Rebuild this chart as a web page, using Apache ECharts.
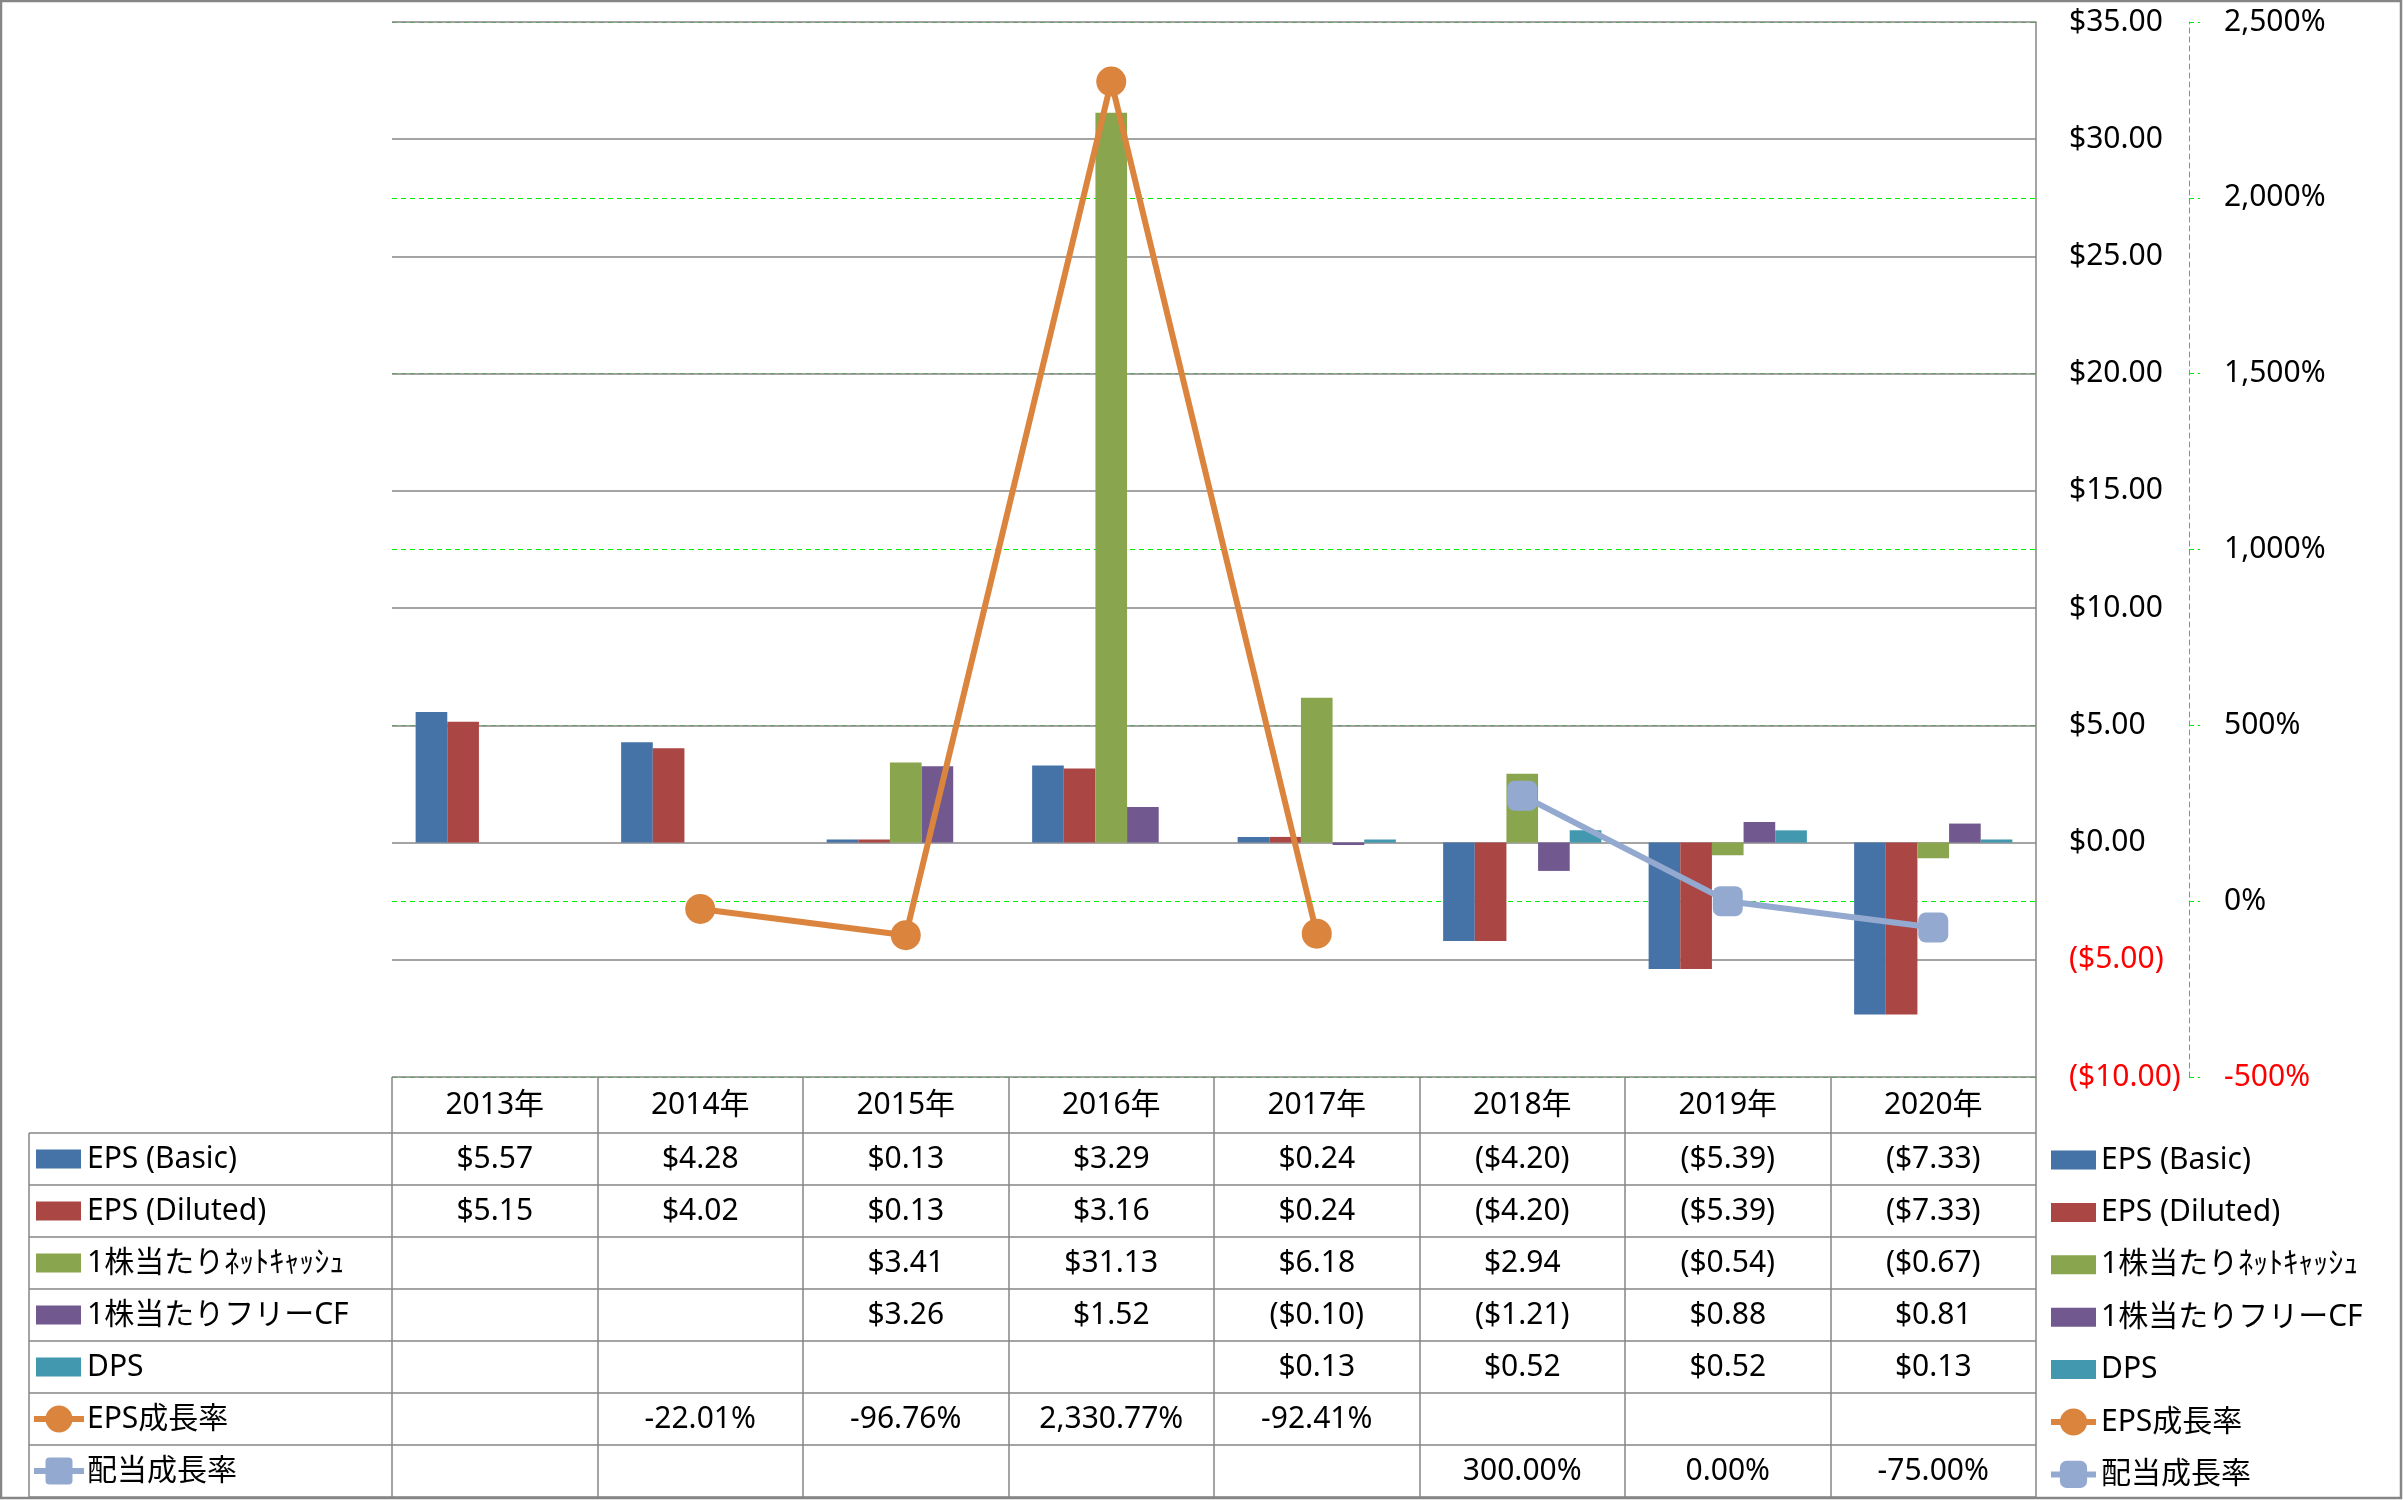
<!DOCTYPE html>
<html>
<head>
<meta charset="utf-8">
<script src="https://cdn.jsdelivr.net/npm/echarts@6/dist/echarts.min.js"></script>
<style>
  html, body { margin: 0; padding: 0; background: #fff; }
  #main { width: 2403px; height: 1500px; }
</style>
</head>
<body>
<div id="main"></div>
<script>
const years = ['2013年', '2014年', '2015年', '2016年', '2017年', '2018年', '2019年', '2020年'];
const epsBasic = [5.57, 4.28, 0.13, 3.29, 0.24, -4.20, -5.39, -7.33];
const epsDiluted = [5.15, 4.02, 0.13, 3.16, 0.24, -4.20, -5.39, -7.33];
const netCashPerShare = [null, null, 3.41, 31.13, 6.18, 2.94, -0.54, -0.67];
const fcfPerShare = [null, null, 3.26, 1.52, -0.10, -1.21, 0.88, 0.81];
const dps = [null, null, null, null, 0.13, 0.52, 0.52, 0.13];
const epsGrowth = [null, -22.01, -96.76, 2330.77, -92.41, null, null, null];
const divGrowth = [null, null, null, null, null, 300.00, 0.00, -75.00];

// axis ranges
const dollarMin = -10, dollarMax = 35, dollarStep = 5;
const pctMin = -500, pctMax = 2500, pctStep = 500;

const FONT = '"Noto Sans", "Noto Sans CJK JP", sans-serif';
const GREY = '#868686';
const GREEN = '#00ee00';

// layout
const GRID_LEFT = 392, GRID_TOP = 22, GRID_W = 1644, GRID_H = 1055;
const TABLE_LEFT = 29, HEADER_H = 56, ROW_H = 52;

const fmtDollar = v => {
  if (v == null) return '';
  const s = '$' + Math.abs(v).toFixed(2);
  return v < 0 ? '(' + s + ')' : s;
};
const fmtPct = v => {
  if (v == null) return '';
  return v.toLocaleString('en-US', { minimumFractionDigits: 2, maximumFractionDigits: 2 }) + '%';
};

const rows = [
  { name: 'EPS (Basic)', data: epsBasic, color: '#4572A7', kind: 'bar', fmt: fmtDollar },
  { name: 'EPS (Diluted)', data: epsDiluted, color: '#AA4643', kind: 'bar', fmt: fmtDollar },
  { name: '1株当たりﾈｯﾄｷｬｯｼｭ', data: netCashPerShare, color: '#89A54E', kind: 'bar', fmt: fmtDollar },
  { name: '1株当たりフリーCF', data: fcfPerShare, color: '#71588F', kind: 'bar', fmt: fmtDollar },
  { name: 'DPS', data: dps, color: '#4198AF', kind: 'bar', fmt: fmtDollar },
  { name: 'EPS成長率', data: epsGrowth, color: '#DB843D', kind: 'line', symbol: 'circle', fmt: fmtPct },
  { name: '配当成長率', data: divGrowth, color: '#93A9CF', kind: 'line', symbol: 'roundRect', fmt: fmtPct },
];

const series = rows.map(r => {
  if (r.kind === 'bar') {
    return {
      name: r.name, type: 'bar', data: r.data, yAxisIndex: 0,
      barGap: '0%', barCategoryGap: '23%',
      itemStyle: { color: r.color }, z: 2,
    };
  }
  return {
    name: r.name, type: 'line', data: r.data, yAxisIndex: 1,
    symbol: r.symbol, symbolSize: 30, showAllSymbol: true,
    lineStyle: { color: r.color, width: 6 },
    itemStyle: { color: r.color },
    z: 5,
  };
});

// flat swatch for bar entries, kept at its own aspect inside the taller legend box
const BAR_ICON = 'path://M0,0h45v19h-45z';

const option = {
  animation: false,
  backgroundColor: '#fff',
  textStyle: { fontFamily: FONT },
  grid: { left: GRID_LEFT, top: GRID_TOP, width: GRID_W, height: GRID_H, containLabel: false, outerBoundsMode: 'none' },
  legend: {
    orient: 'vertical', left: 2043, top: 1140,
    itemWidth: 45, itemHeight: 34, itemGap: 22.4,
    symbolKeepAspect: true,
    selectedMode: false,
    lineStyle: { width: 6 },
    textStyle: { fontSize: 30, lineHeight: 30, color: '#000', fontFamily: FONT },
    data: rows.map(r => r.kind === 'bar' ? { name: r.name, icon: BAR_ICON } : { name: r.name }),
  },
  xAxis: {
    type: 'category', data: years, position: 'bottom',
    axisLine: { show: false, onZero: false },
    axisTick: { show: true, interval: 0, length: 420, lineStyle: { color: GREY, width: 1.5 } },
    axisLabel: { interval: 0, margin: 13, fontSize: 30, color: '#000', fontFamily: FONT },
    splitLine: { show: false },
  },
  yAxis: [
    {
      type: 'value', position: 'right', min: dollarMin, max: dollarMax, interval: dollarStep, z: 1,
      axisLine: { show: true, lineStyle: { color: GREY, width: 1.5 } },
      axisTick: { show: false },
      splitLine: { show: true, lineStyle: { color: GREY, width: 1.5 } },
      axisLabel: {
        margin: 33, align: 'left', fontSize: 30, fontFamily: FONT,
        formatter: v => fmtDollar(v),
        color: v => Number(v) < 0 ? '#ff0000' : '#000',
      },
    },
    {
      type: 'value', position: 'right', offset: 153, min: pctMin, max: pctMax, interval: pctStep, z: 0,
      axisLine: { show: true, lineStyle: { color: GREEN, width: 1, type: [5, 4] } },
      axisTick: { show: true, length: 11, lineStyle: { color: GREEN, width: 1, type: [5, 4] } },
      splitLine: { show: true, lineStyle: { color: GREEN, width: 1, type: [5, 4] } },
      axisLabel: {
        margin: 35, align: 'left', fontSize: 30, fontFamily: FONT,
        formatter: v => Number(v).toLocaleString('en-US') + '%',
        color: v => Number(v) < 0 ? '#ff0000' : '#000',
      },
    },
  ],
  series: series,
};

const chart = echarts.init(document.getElementById('main'));
chart.setOption(option);

// data table under the plot, columns taken from the category axis
const colX = years.map(y => chart.convertToPixel({ xAxisIndex: 0 }, y));
const tableTop = GRID_TOP + GRID_H;
const bodyTop = tableTop + HEADER_H;
const tableBottom = bodyTop + rows.length * ROW_H;
const tableRight = GRID_LEFT + GRID_W;
const lineStyle = { stroke: GREY, lineWidth: 1.5 };

const graphic = [];
graphic.push({
  type: 'rect', shape: { x: 1, y: 1, width: 2400, height: 1497 },
  style: { fill: null, stroke: GREY, lineWidth: 2.5 }, silent: true,
});
for (let r = 0; r <= rows.length; r++) {
  const y = bodyTop + r * ROW_H;
  graphic.push({ type: 'line', shape: { x1: TABLE_LEFT, y1: y, x2: tableRight, y2: y }, style: lineStyle, silent: true });
}
graphic.push({ type: 'line', shape: { x1: TABLE_LEFT, y1: bodyTop, x2: TABLE_LEFT, y2: tableBottom }, style: lineStyle, silent: true });

rows.forEach((r, i) => {
  const cy = bodyTop + i * ROW_H + ROW_H / 2;
  if (r.kind === 'bar') {
    graphic.push({ type: 'rect', shape: { x: 36, y: cy - 9.5, width: 45, height: 19 }, style: { fill: r.color }, silent: true });
  } else {
    graphic.push({ type: 'line', shape: { x1: 34, y1: cy, x2: 84, y2: cy }, style: { stroke: r.color, lineWidth: 6 }, silent: true });
    if (r.symbol === 'circle') {
      graphic.push({ type: 'circle', shape: { cx: 59, cy: cy, r: 13.5 }, style: { fill: r.color }, silent: true });
    } else {
      graphic.push({ type: 'rect', shape: { x: 45.5, y: cy - 13.5, width: 27, height: 27, r: 4 }, style: { fill: r.color }, silent: true });
    }
  }
  graphic.push({
    type: 'text', x: 87, y: cy, silent: true,
    style: {
      text: r.name, font: '30px ' + FONT, fill: '#000', verticalAlign: 'middle', align: 'left',
      width: 303, overflow: 'truncate', ellipsis: '',
    },
  });
  r.data.forEach((v, j) => {
    const t = r.fmt(v);
    if (!t) return;
    graphic.push({
      type: 'text', x: colX[j], y: cy, silent: true,
      style: { text: t, font: '30px ' + FONT, fill: '#000', align: 'center', verticalAlign: 'middle' },
    });
  });
});

chart.setOption({ graphic: graphic });
</script>
</body>
</html>
